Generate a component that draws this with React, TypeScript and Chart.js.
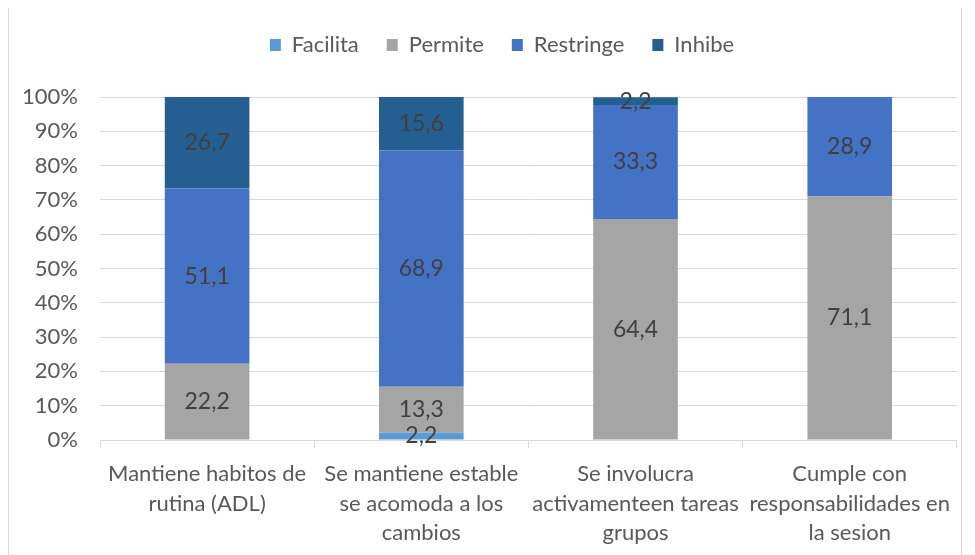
import React, { useEffect, useRef } from "react";
import { Chart, registerables } from "chart.js";

Chart.register(...registerables);

const categories: string[][] = [
  ["Mantiene habitos de", "rutina (ADL)"],
  ["Se mantiene estable", "se acomoda a los", "cambios"],
  ["Se involucra", "activamenteen tareas", "grupos"],
  ["Cumple con", "responsabilidades en", "la sesion"],
];

const facilita = [0, 2.2, 0, 0];
const permite = [22.2, 13.3, 64.4, 71.1];
const restringe = [51.1, 68.9, 33.3, 28.9];
const inhibe = [26.7, 15.6, 2.2, 0];

const yTicks = [0, 10, 20, 30, 40, 50, 60, 70, 80, 90, 100];

const FONT = "Lato, 'Open Sans', sans-serif";

const dataLabels = {
  id: "dataLabels",
  afterDatasetsDraw(chart: any) {
    const ctx = chart.ctx;
    ctx.save();
    ctx.font = `23px ${FONT}`;
    ctx.fillStyle = "#404040";
    ctx.textAlign = "center";
    ctx.textBaseline = "middle";
    chart.data.datasets.forEach((ds: any, di: number) => {
      const meta = chart.getDatasetMeta(di);
      meta.data.forEach((el: any, i: number) => {
        const v = ds.data[i];
        if (!v) return;
        const y = (el.y + el.base) / 2;
        ctx.fillText(v.toFixed(1).replace(".", ","), el.x, y);
      });
    });
    ctx.restore();
  },
};

const legendTweak = {
  id: "legendTweak",
  beforeLayout(chart: any) {
    const lg = chart.legend;
    if (lg && !lg.__patched) {
      const orig = lg.fit;
      lg.fit = function () {
        orig.call(this);
        this.height = 89;
      };
      lg.__patched = true;
    }
  },
  afterLayout(chart: any) {
    const lg = chart.legend;
    if (lg) {
      lg.left += 34;
      lg.top -= 2;
    }
  },
};

export default function App() {
  const ref = useRef<HTMLCanvasElement | null>(null);
  useEffect(() => {
    if (!ref.current) return;
    const chart = new Chart(ref.current, {
      type: "bar",
      data: {
        labels: categories,
        datasets: [
          { label: "Facilita", data: facilita, backgroundColor: "#5B9BD5" },
          { label: "Permite", data: permite, backgroundColor: "#A5A5A5" },
          { label: "Restringe", data: restringe, backgroundColor: "#4472C4" },
          { label: "Inhibe", data: inhibe, backgroundColor: "#255E91" },
        ],
      },
      options: {
        animation: false,
        responsive: false,
        maintainAspectRatio: false,
        layout: { padding: { left: 0, right: 0, top: 0, bottom: 0 } },
        datasets: {
          bar: { categoryPercentage: 1, barPercentage: 0.395, borderWidth: 0 },
        },
        plugins: {
          legend: {
            position: "top",
            align: "center",
            labels: {
              boxWidth: 11,
              boxHeight: 12,
              padding: 28,
              color: "#595959",
              font: { family: FONT, size: 22 },
            },
          },
          tooltip: { enabled: false },
        },
        scales: {
          x: {
            stacked: true,
            offset: true,
            grid: {
              offset: true,
              drawOnChartArea: false,
              drawTicks: true,
              tickLength: 8,
              color: "#d9d9d9",
            },
            border: { display: true, color: "#d9d9d9" },
            ticks: {
              color: "#595959",
              font: { family: FONT, size: 22, lineHeight: 1.35 },
              maxRotation: 0,
              autoSkip: false,
              padding: 11,
            },
            afterFit(scale: any) {
              scale.height = 115;
            },
          },
          y: {
            stacked: true,
            min: 0,
            max: 100,
            grid: { color: "#d9d9d9", drawTicks: false },
            border: { display: false },
            afterBuildTicks(scale: any) {
              scale.ticks = yTicks.map((v) => ({ value: v }));
            },
            ticks: {
              color: "#595959",
              font: { family: FONT, size: 22 },
              padding: 22,
              callback: (v: any) => `${v}%`,
            },
            afterFit(scale: any) {
              scale.width = 91;
            },
          },
        },
      },
      plugins: [dataLabels, legendTweak],
    });
    return () => chart.destroy();
  }, []);
  return (
    <div
      style={{
        marginTop: -1,
        width: 952,
        height: 547,
        border: "1px solid #d9d9d9",
        borderBottom: "none",
        background: "#fff",
        overflow: "hidden",
      }}
    >
      <canvas ref={ref} width={952} height={547} style={{ display: "block" }} />
    </div>
  );
}
